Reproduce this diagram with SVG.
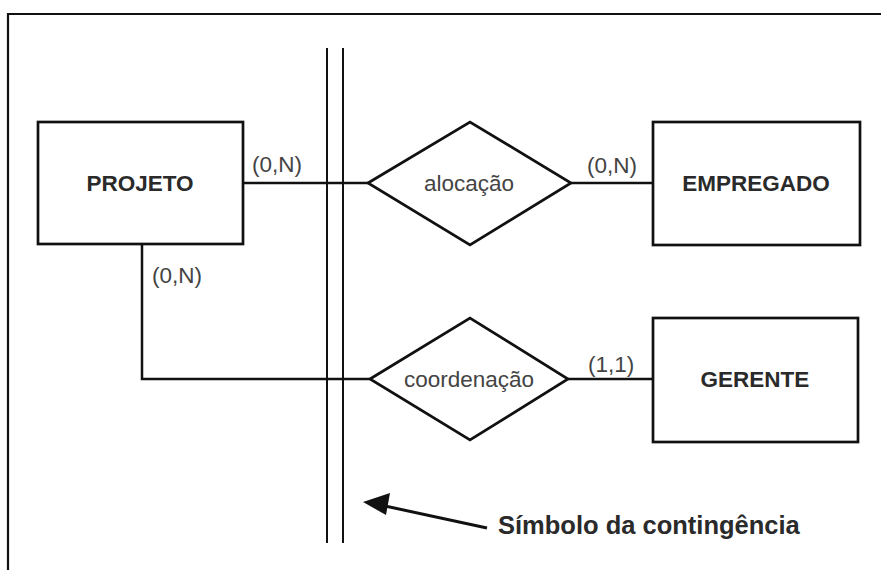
<svg xmlns="http://www.w3.org/2000/svg" width="881" height="570" viewBox="0 0 881 570">
<style>
.box{fill:#fff;stroke:#111;stroke-width:2.7}
.rel{fill:#fff;stroke:#111;stroke-width:2.7}
.ln{fill:none;stroke:#111;stroke-width:2.5}
.vl{fill:none;stroke:#111;stroke-width:2}
.ent{font-family:"Liberation Sans",Arial,sans-serif;font-weight:bold;font-size:22.5px;fill:#2a2a2a;text-anchor:middle}
.rt{font-family:"Liberation Sans",Arial,sans-serif;font-size:22.5px;fill:#444;text-anchor:middle}
.card{font-family:"Liberation Sans",Arial,sans-serif;font-size:22.5px;fill:#444}
.note{font-family:"Liberation Sans",Arial,sans-serif;font-weight:bold;font-size:25.5px;fill:#2a2a2a}
</style>
<defs>
<marker id="ah" viewBox="0 0 10 10" refX="9" refY="5" markerWidth="12" markerHeight="8" markerUnits="userSpaceOnUse" orient="auto" preserveAspectRatio="none">
<path d="M0,0 L10,5 L0,10 z" fill="#111"/>
</marker>
</defs>
<rect x="0" y="0" width="881" height="570" fill="#fff"/>
<path d="M8,570 V14 H881" fill="none" stroke="#111" stroke-width="2.2"/>
<g id="connectors">
<path class="ln" d="M243,183 H368"/>
<path class="ln" d="M571,183 H653"/>
<path class="ln" d="M142,244 V379 H370"/>
<path class="ln" d="M568,379 H653"/>
<path class="vl" d="M327,48 V543"/>
<path class="vl" d="M343,48 V543"/>
<path d="M487,528 L385,506" stroke="#111" stroke-width="3" fill="none"/>
<path d="M363,502 L390,493 L386,515 z" fill="#111"/>
</g>
<g id="projeto">
<rect class="box" x="38" y="122" width="205" height="122"/>
<text class="ent" x="140" y="191">PROJETO</text>
</g>
<g id="empregado">
<rect class="box" x="653" y="122" width="207" height="123"/>
<text class="ent" x="756" y="191">EMPREGADO</text>
</g>
<g id="gerente">
<rect class="box" x="653" y="318" width="205" height="124"/>
<text class="ent" x="755" y="387">GERENTE</text>
</g>
<g id="alocacao">
<polygon class="rel" points="368,183 470,122 571,183 470,245"/>
<text class="rt" x="469" y="191">alocação</text>
</g>
<g id="coordenacao">
<polygon class="rel" points="370,379 470,318 568,379 470,440"/>
<text class="rt" x="469" y="387">coordenação</text>
</g>
<g id="labels">
<text class="card" x="252" y="172">(0,N)</text>
<text class="card" x="587" y="173">(0,N)</text>
<text class="card" x="152" y="283">(0,N)</text>
<text class="card" x="588" y="372">(1,1)</text>
<text class="note" x="498" y="534">Símbolo da contingência</text>
</g>
</svg>
